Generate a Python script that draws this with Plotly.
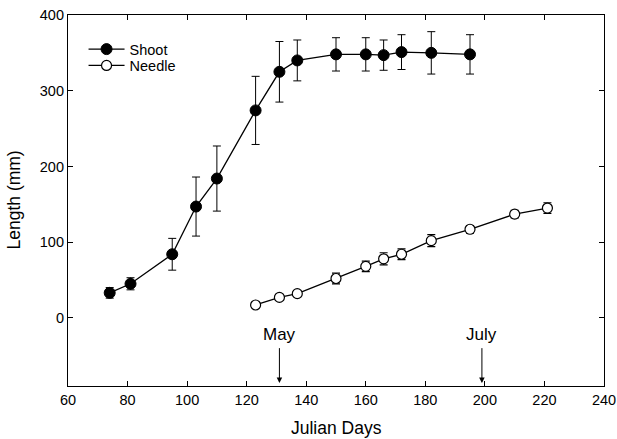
import plotly.graph_objects as go

shoot_days = [74, 81, 95, 103, 110, 123, 131, 137, 150, 160, 166, 172, 182, 195]
shoot_len = [33, 45, 84, 147, 184, 274, 325, 340, 348, 348, 347, 351, 350, 348]
shoot_err = [7, 8, 21, 39, 43, 45, 40, 27, 22, 22, 20, 23, 28, 26]

needle_days = [123, 131, 137, 150, 160, 166, 172, 182, 195, 210, 221]
needle_len = [17, 27, 32, 52, 68, 78, 84, 102, 117, 137, 145]
needle_err = [3, 4, 4, 7, 7, 8, 7, 8, 5, 5, 7]

month_labels = ["May", "July"]
month_days = [131, 199]

FONT = "Liberation Sans, Arial, sans-serif"

fig = go.Figure()
fig.add_trace(go.Scatter(
    x=shoot_days, y=shoot_len, name="Shoot", mode="lines+markers",
    line=dict(color="black", width=1.3),
    marker=dict(size=11, color="black", line=dict(color="black", width=1)),
    error_y=dict(type="data", array=shoot_err, color="black", thickness=1, width=4),
    legend="legend",
))
fig.add_trace(go.Scatter(
    x=needle_days, y=needle_len, name="Needle", mode="lines+markers",
    line=dict(color="black", width=1.3),
    marker=dict(size=10, color="white", line=dict(color="black", width=1.2)),
    error_y=dict(type="data", array=needle_err, color="black", thickness=1.2, width=4),
    legend="legend2",
))

for lab, d in zip(month_labels, month_days):
    fig.add_annotation(x=d, y=-22, text=lab, showarrow=False, xref="x", yref="y",
                       font=dict(family=FONT, size=17, color="black"))
    fig.add_annotation(x=d, y=-86, ax=d, ay=-38, axref="x", ayref="y", xref="x", yref="y",
                       text="", showarrow=True, arrowhead=2, arrowsize=1.1,
                       arrowwidth=1, arrowcolor="black")

# axis titles
fig.add_annotation(x=0.5, y=0, xref="paper", yref="paper", yanchor="top", yshift=-30,
                   text="Julian Days", showarrow=False,
                   font=dict(family=FONT, size=17.5, color="black"))
fig.add_annotation(x=0, y=0.5, xref="paper", yref="paper", xanchor="center", xshift=-55,
                   text="Length (mm)", showarrow=False, textangle=-90,
                   font=dict(family=FONT, size=17.5, color="black"))

axis_common = dict(
    showline=True, linecolor="black", linewidth=1.2, mirror="ticks",
    ticks="inside", ticklen=5, tickcolor="black", tickwidth=1,
    showgrid=False, zeroline=False, automargin=False,
    tickfont=dict(family=FONT, size=14.5, color="black"),
)

legend_common = dict(xanchor="left", yanchor="top", bgcolor="rgba(0,0,0,0)",
                     font=dict(family=FONT, size=14.5, color="black"), itemwidth=36)

fig.update_layout(
    width=617, height=439,
    margin=dict(l=68, r=13, t=15, b=53),
    paper_bgcolor="white", plot_bgcolor="white",
    font=dict(family=FONT, color="black"),
    xaxis=dict(range=[60, 240], tick0=60, dtick=20, **axis_common),
    yaxis=dict(range=[-90, 400], tickvals=[0, 100, 200, 300, 400], **axis_common),
    legend=dict(x=0.029, y=0.951, **legend_common),
    legend2=dict(x=0.029, y=0.907, **legend_common),
    showlegend=True,
)

fig.write_html("out.html", config={"displayModeBar": False},
               post_script="document.body.style.margin='0';")
